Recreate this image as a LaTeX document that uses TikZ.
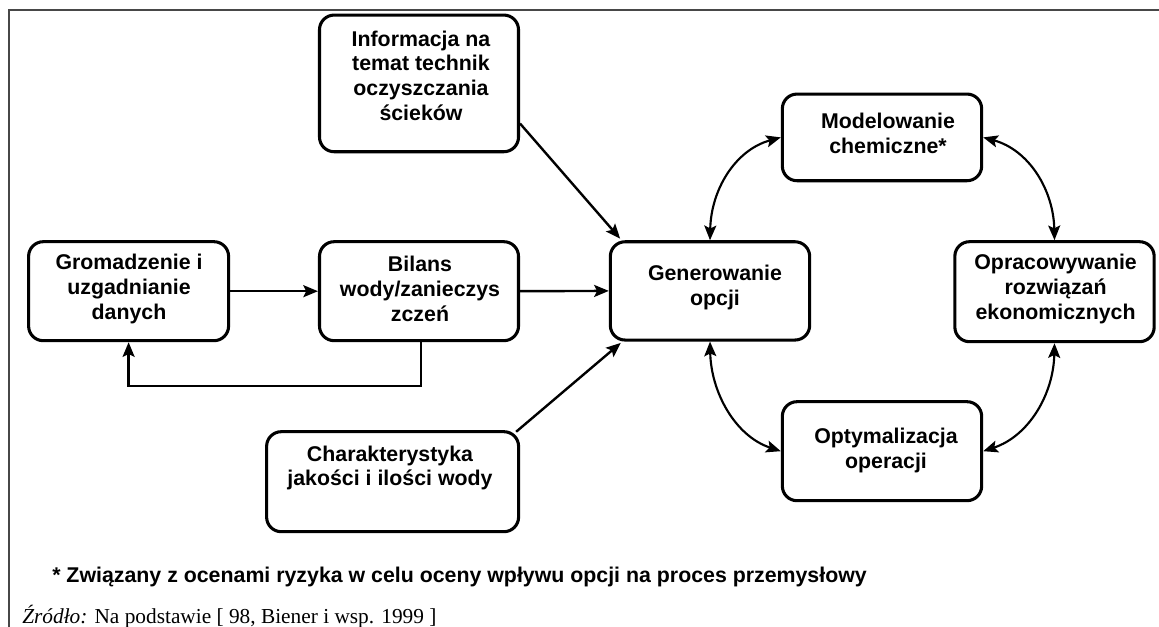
\documentclass[tikz,border=0pt]{standalone}
\usepackage{fontspec}
\setmainfont{Liberation Serif}
\setsansfont{Liberation Sans}
\usetikzlibrary{arrows.meta}
\begin{document}
\begin{tikzpicture}[x=0.75pt,y=-0.75pt,
  box/.style={draw, line width=2.3pt, rounded corners=11pt, inner sep=0pt},
  boxtext/.style={align=center, inner sep=0pt,
    font=\sffamily\bfseries\fontsize{16}{18.5}\selectfont},
  headtip/.style={Stealth[length=11pt,width=9pt,inset=2.2pt]},
  conn/.style={line width=1.8pt, -{Stealth[length=11pt,width=9pt,inset=2.2pt]}},
  both/.style={line width=1.6pt,
    {Stealth[length=11pt,width=9pt,inset=2.2pt]}-{Stealth[length=11pt,width=9pt,inset=2.2pt]}},
]
\useasboundingbox (0,0) rectangle (1159,627);

% open frame (top and left edges)
\draw[line width=1.6pt, black!72] (1159,10) -- (9,10) -- (9,627);

% boxes
\node[box, minimum width=149.25pt, minimum height=102.5pt] (info)   at (419,83.4)    {};
\node[box, minimum width=150pt,    minimum height=74.25pt] (grom)   at (128.6,291.2) {};
\node[box, minimum width=149.25pt, minimum height=74.25pt] (bilans) at (419,291.2)   {};
\node[box, minimum width=189pt,    minimum height=75pt]    (char)   at (392.6,481.7) {};
\node[box, minimum width=149.5pt,  minimum height=73.7pt]  (gen)    at (710,290.9)   {};
\node[box, minimum width=149.5pt,  minimum height=65pt]    (model)  at (882,137.4)   {};
\node[box, minimum width=149.5pt,  minimum height=75pt]    (oprac)  at (1054.5,291.7){};
\node[box, minimum width=149.5pt,  minimum height=74.25pt] (optym)  at (882,451.2)   {};

% box captions
\node[boxtext] (info-t)   at (421,75.5)   {Informacja na\\temat technik\\oczyszczania\\ścieków};
\node[boxtext] (grom-t)   at (129,289)    {Gromadzenie i\\uzgadnianie\\danych};
\node[boxtext] (bilans-t) at (420,289)    {Bilans\\wody/zanieczys\\zczeń};
\node[boxtext] (char-t)   at (390,468)    {Charakterystyka\\jakości i ilości wody};
\node[boxtext] (gen-t)    at (715,287.5)  {Generowanie\\opcji};
\node[boxtext] (model-t)  at (888,133.3)  {Modelowanie\\chemiczne*};
\node[boxtext] (oprac-t)  at (1055.6,289) {Opracowywanie\\rozwiązań\\ekonomicznych};
\node[boxtext] (optym-t)  at (886,450.5)  {Optymalizacja\\operacji};

% straight connectors
\draw[conn] (grom.east) -- (bilans.west);
\draw[conn] (bilans.east) -- (gen.west);
\draw[conn] ([xshift=1.5pt]bilans.south) -- ++(0,44) -| (grom.south);
\draw[conn] ([yshift=22.3pt]info.south east) -- ([xshift=8.5pt,yshift=1.2pt]gen.north west);
\draw[conn] ([xshift=-3pt,yshift=-1.2pt]char.north east) -- ([xshift=9pt,yshift=-1pt]gen.south west);

% curved two-way connectors
\draw[both] (gen.north)   .. controls (711,190)    and (735,150)  .. (model.west);
\draw[both] (model.east)  .. controls (1029,150)   and (1053.5,190) .. (oprac.north);
\draw[both] (gen.south)   .. controls (711,392)    and (735,436)  .. (optym.west);
\draw[both] (oprac.south) .. controls (1053.5,394) and (1029,436) .. (optym.east);

% footnote and source
\node[anchor=base west, inner sep=0pt, font=\sffamily\bfseries\fontsize{16}{19}\selectfont] (note) at (52,582)
  {* Związany z ocenami ryzyka w celu oceny wpływu opcji na proces przemysłowy};
\node[anchor=base west, inner sep=0pt, font=\fontsize{16}{19}\selectfont] (src) at (22,623)
  {\textit{Źródło:} Na podstawie [ 98, Biener i wsp. 1999 ]};
\end{tikzpicture}
\end{document}
